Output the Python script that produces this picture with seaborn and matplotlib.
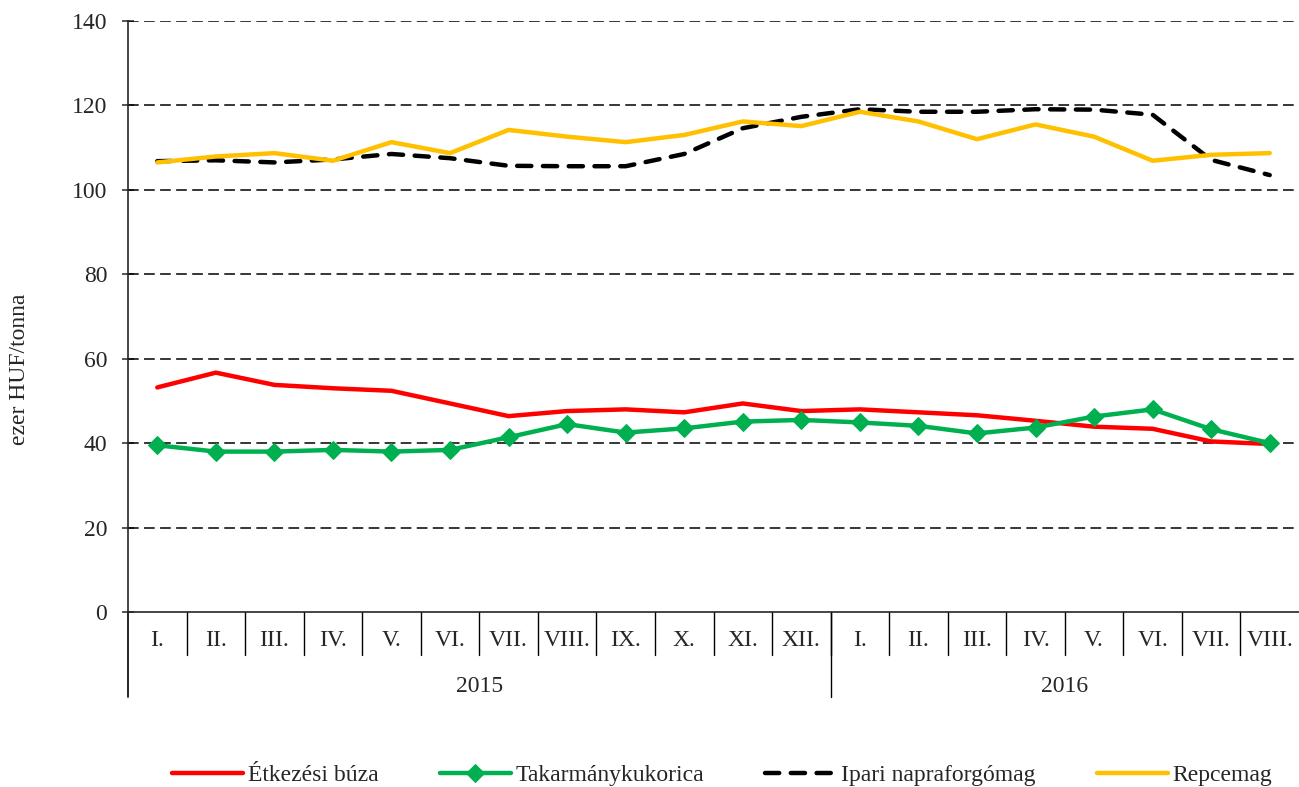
import matplotlib
matplotlib.use("Agg")
from matplotlib import pyplot as plt
import seaborn as sns
import numpy as np
import pandas as pd

months = ["I.", "II.", "III.", "IV.", "V.", "VI.", "VII.", "VIII.", "IX.", "X.", "XI.", "XII.",
          "I.", "II.", "III.", "IV.", "V.", "VI.", "VII.", "VIII."]
years = ["2015", "2016"]
year_len = [12, 8]

buza = [53.2, 56.7, 53.8, 53.0, 52.4, 49.4, 46.4, 47.6, 48.0, 47.3, 49.4, 47.6,
        48.0, 47.3, 46.6, 45.3, 43.9, 43.4, 40.4, 39.8]
kukorica = [39.5, 38.0, 38.0, 38.4, 38.0, 38.4, 41.4, 44.5, 42.5, 43.5, 45.1, 45.5,
            44.9, 44.1, 42.3, 43.7, 46.3, 48.0, 43.3, 40.0]
napraforgo = [106.8, 107.0, 106.5, 107.2, 108.5, 107.5, 105.7, 105.6, 105.6, 108.5, 114.6, 117.3,
              119.1, 118.5, 118.5, 119.1, 119.0, 117.8, 107.1, 103.5]
repce = [106.5, 107.9, 108.7, 106.9, 111.3, 108.7, 114.2, 112.6, 111.3, 113.0, 116.2, 115.1,
         118.5, 116.2, 112.0, 115.5, 112.6, 106.9, 108.3, 108.7]

names = ["Étkezési búza", "Takarmánykukorica", "Ipari napraforgómag", "Repcemag"]
colors = ["#FF0000", "#00B050", "#000000", "#FFC000"]

FS = 17

sns.set_style("white")
plt.rcParams['font.family'] = ['Liberation Serif', 'DejaVu Serif']
plt.rcParams['font.size'] = FS

x = np.arange(len(months))
df = pd.DataFrame({"x": x, names[0]: buza, names[1]: kukorica,
                   names[2]: napraforgo, names[3]: repce})

fig = plt.figure(figsize=(12.99, 7.87), dpi=100)
ax = fig.add_axes([128 / 1299, 1 - 612 / 787, (1299 - 128) / 1299, 591 / 787])

for y in range(20, 141, 20):
    ax.axhline(y, color="black", lw=1.1, dashes=(7, 3.5), zorder=1)

sns.lineplot(data=df, x="x", y=names[0], ax=ax, color=colors[0], lw=3.2, label=names[0], zorder=3)
sns.lineplot(data=df, x="x", y=names[1], ax=ax, color=colors[1], lw=3.2, marker="D",
             markersize=9.5, markeredgecolor=colors[1], label=names[1], zorder=4)
sns.lineplot(data=df, x="x", y=names[2], ax=ax, color=colors[2], lw=3.2, label=names[2], zorder=3)
ax.lines[-1].set_dashes((3.2, 2.6))
ax.lines[-1].set_dash_capstyle("round")
sns.lineplot(data=df, x="x", y=names[3], ax=ax, color=colors[3], lw=3.2, label=names[3], zorder=3)

ax.set_xlim(-0.5, len(months) - 0.5)
ax.set_ylim(0, 140)
ax.set_yticks(range(0, 141, 20))
ax.tick_params(axis="y", length=8, width=1.1, direction="inout", left=True, pad=11, labelsize=FS)
ax.set_xticks([])
ax.set_xlabel("")
ax.set_ylabel("ezer HUF/tonna", fontsize=FS)
ax.yaxis.set_label_coords((30 - 128) / 1171, (612 - 369) / 591)
for s in ["top", "right"]:
    ax.spines[s].set_visible(False)
ax.spines["left"].set_linewidth(1.2)
ax.spines["bottom"].set_linewidth(1.2)

# category axis: months and years
trans = ax.get_xaxis_transform()
h = 591.0
for i, m in enumerate(months):
    ax.text(i, -29 / h, m, transform=trans, ha="center", va="center", fontsize=FS)
for b in range(1, len(months)):
    ax.plot([b - 0.5, b - 0.5], [0, -43 / h], transform=trans, color="black", lw=1, clip_on=False)
start = 0
ax.plot([-0.5, -0.5], [0, -85 / h], transform=trans, color="black", lw=1.2, clip_on=False)
for yr, n in zip(years, year_len):
    ax.text(start + n / 2 - 0.5, -74 / h, yr, transform=trans, ha="center", va="center", fontsize=FS)
    start += n
    if start < len(months):
        ax.plot([start - 0.5, start - 0.5], [0, -85 / h], transform=trans, color="black", lw=1, clip_on=False)

handles, labels = ax.get_legend_handles_labels()
ax.get_legend().remove()
fig.legend(handles, labels, loc="center", bbox_to_anchor=(0.556, 1 - 775 / 787), ncol=4,
           frameon=False, handlelength=3.0, columnspacing=2.6, handletextpad=0.2, fontsize=FS)

fig.savefig("out.png", dpi=100)
